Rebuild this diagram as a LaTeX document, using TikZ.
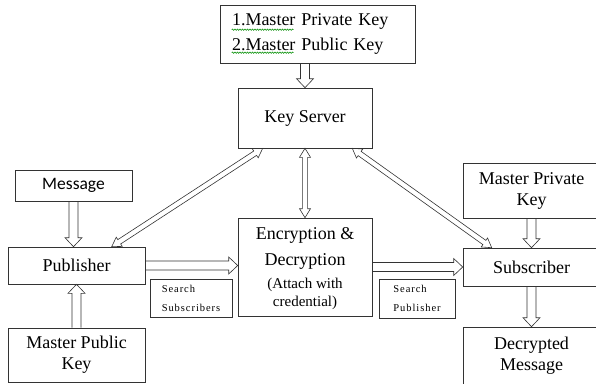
\documentclass[tikz,border=0pt]{standalone}
\usepackage{fontspec}
\setmainfont{Liberation Serif}
\newfontfamily\calibri{Carlito}
\newfontfamily\spaced[LetterSpace=9]{Liberation Serif}
\usetikzlibrary{calc}
\usetikzlibrary{positioning}
\usetikzlibrary{decorations.pathmorphing}

\tikzset{
  shaftw/.store in=\shaftw, headw/.store in=\headw, headl/.store in=\headl,
  shaftw=4.5pt, headw=8.5pt, headl=9pt,
  % hollow block arrow, one head
  blk/.style={draw=black!80, line width=0.6pt, to path={
    ($(\tikztostart)!\shaftw!90:(\tikztotarget)$)
    -- ($(\tikztotarget)!\headl!(\tikztostart)!\shaftw!90:(\tikztotarget)$)
    -- ($(\tikztotarget)!\headl!(\tikztostart)!\headw!90:(\tikztotarget)$)
    -- (\tikztotarget)
    -- ($(\tikztotarget)!\headl!(\tikztostart)!\headw!-90:(\tikztotarget)$)
    -- ($(\tikztotarget)!\headl!(\tikztostart)!\shaftw!-90:(\tikztotarget)$)
    -- ($(\tikztostart)!\shaftw!-90:(\tikztotarget)$)}},
  % hollow block arrow, two heads
  blkk/.style={draw=black!80, line width=0.6pt, to path={
    (\tikztostart)
    -- ($(\tikztostart)!\headl!(\tikztotarget)!\headw!90:(\tikztotarget)$)
    -- ($(\tikztostart)!\headl!(\tikztotarget)!\shaftw!90:(\tikztotarget)$)
    -- ($(\tikztotarget)!\headl!(\tikztostart)!\shaftw!90:(\tikztotarget)$)
    -- ($(\tikztotarget)!\headl!(\tikztostart)!\headw!90:(\tikztotarget)$)
    -- (\tikztotarget)
    -- ($(\tikztotarget)!\headl!(\tikztostart)!\headw!-90:(\tikztotarget)$)
    -- ($(\tikztotarget)!\headl!(\tikztostart)!\shaftw!-90:(\tikztotarget)$)
    -- ($(\tikztostart)!\headl!(\tikztotarget)!\shaftw!-90:(\tikztotarget)$)
    -- ($(\tikztostart)!\headl!(\tikztotarget)!\headw!-90:(\tikztotarget)$)
    -- cycle}},
  thin arrow/.style={shaftw=2.6pt, headw=5.5pt, headl=9pt},
  spell/.style={draw=green!55!black, line width=0.5pt,
    decorate, decoration={snake, amplitude=0.7pt, segment length=2.5pt}}
}

\begin{document}
\begin{tikzpicture}[x=1pt,y=-1pt,
  box/.style={draw=black!80, line width=0.6pt, inner sep=0pt, align=center,
    font=\fontsize{18}{21}\selectfont},
  small box/.style={box, align=left, font=\spaced\fontsize{10.5}{19}\selectfont}]

  \useasboundingbox (0,0) rectangle (596,383);

  \node[box, minimum width=195, minimum height=58, inner xsep=12, text width=171,
    align=left, font=\fontsize{18}{25}\selectfont] (keys) at (317.5,34)
    {1.Master Private Key\\2.Master Public Key};
  \node[box, minimum width=134, minimum height=60] (ks) at (305,118) {Key Server};
  \node[box, minimum width=117, minimum height=31, font=\calibri\fontsize{17.5}{21}\selectfont]
    (msg) at (73.5,185.5) {Message};
  \node[box, minimum width=137, minimum height=37] (pub) at (76.5,265.5) {Publisher};
  \node[box, minimum width=137, minimum height=54] (mpub) at (76.5,355)
    {Master Public\\Key};
  \node[box, minimum width=134, minimum height=98] (enc) at (305,267)
    {\rule{0pt}{16pt}Encryption \&\\[5pt] Decryption\\[2pt]
     \fontsize{15}{17}\selectfont (Attach with\\[-3pt] \fontsize{15}{17}\selectfont credential)};
  \node[small box, minimum width=82, minimum height=38] (ssub) at (191,298)
    {Search\\Subscribers};
  \node[small box, minimum width=76, minimum height=39] (spub) at (417,298.5)
    {Search\\Publisher};
  \node[box, minimum width=137, minimum height=55] (mpriv) at (531.5,190.5)
    {Master Private\\Key};
  \node[box, minimum width=137, minimum height=38] (sub) at (531.5,267) {Subscriber};
  \node[box, minimum width=137, minimum height=58] (dec) at (531.5,356)
    {Decrypted\\Message};

  % spell-check marks
  \path[spell] ([shift={(12,25)}]keys.north west) -- ([shift={(74,25)}]keys.north west);
  \path[spell] ([shift={(12,48)}]keys.north west) -- ([shift={(74,48)}]keys.north west);

  \path[blk] (ks.north |- keys.south) to (ks.north);
  \path[blk] (msg.south) to (msg.south |- pub.north);
  \path[blk] (mpub.north) to (pub.south);
  \path[blk] (pub.east) to (pub.east -| enc.west);
  \path[blk] (enc.east) to (sub.west);
  \path[blk] (mpriv.south) to (sub.north);
  \path[blk] (sub.south) to (dec.north);

  \path[blkk, thin arrow] (ks.south) to (enc.north);
  \path[blkk, thin arrow] ([xshift=25]ks.south west) to ([xshift=104]pub.north west);
  \path[blkk, thin arrow] ([xshift=-20]ks.south east) to ([xshift=29]sub.north west);
\end{tikzpicture}
\end{document}
